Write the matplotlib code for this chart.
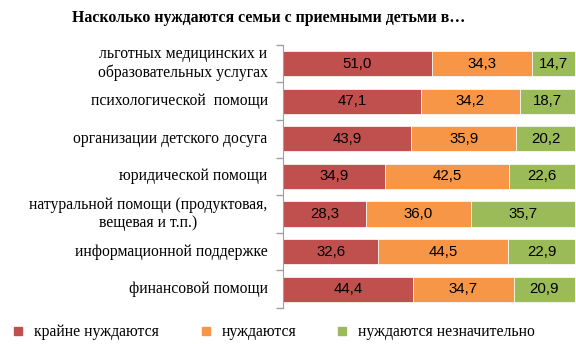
import numpy as np
import matplotlib.pyplot as plt
from matplotlib.lines import Line2D
from matplotlib.transforms import blended_transform_factory, offset_copy

categories = [
    "льготных медицинских и\nобразовательных услугах",
    "психологической  помощи",
    "организации детского досуга",
    "юридической помощи",
    "натуральной помощи (продуктовая,\nвещевая и т.п.)",
    "информационной поддержке",
    "финансовой помощи",
]
very_need = [51.0, 47.1, 43.9, 34.9, 28.3, 32.6, 44.4]
need = [34.3, 34.2, 35.9, 42.5, 36.0, 44.5, 34.7]
little_need = [14.7, 18.7, 20.2, 22.6, 35.7, 22.9, 20.9]
series_names = ["крайне нуждаются", "нуждаются", "нуждаются незначительно"]
colors = ["#C0504D", "#F79646", "#9BBB59"]

serif = "Liberation Serif"
sans = "Liberation Sans"
label_size = 11.3

fig = plt.figure(figsize=(5.76, 3.44), dpi=100)
ax = fig.add_axes([283 / 576, 1 - 308 / 344, 292 / 576, (308 - 44.7) / 344])

y = np.arange(len(categories))
left = np.zeros(len(categories))
for vals, col in zip([very_need, need, little_need], colors):
    vals = np.array(vals)
    ax.barh(y, vals, left=left, height=0.667, color=col,
            edgecolor="white", linewidth=0.5)
    for yi, l, v in zip(y, left, vals):
        ax.text(l + v / 2, yi, f"{v:.1f}".replace(".", ","), ha="center",
                va="center", fontsize=10.8, family=sans, color="black")
    left += vals

ax.set_xlim(0, 100)
ax.set_ylim(len(categories) - 0.5, -0.5)
ax.set_xticks([])
ax.set_yticks([])

# category labels: every line drawn on its own so two-line labels are centred
renderer = fig.canvas.get_renderer()
base = blended_transform_factory(ax.transAxes, ax.transData)
line_step = 1.15 * label_size
for yi, cat in zip(y, categories):
    lines = cat.split("\n")
    widths = []
    for ln in lines:
        t = fig.text(0, 0, ln, family=serif, fontsize=label_size)
        widths.append(t.get_window_extent(renderer).width * 72 / fig.dpi)
        t.remove()
    block_w = max(widths)
    for i, ln in enumerate(lines):
        dy = (len(lines) - 1) / 2 * line_step - i * line_step
        trans = offset_copy(base, fig=fig, x=-11 - block_w / 2, y=dy, units="points")
        ax.text(0, yi, ln, transform=trans, ha="center", va="center",
                family=serif, fontsize=label_size)

# small gray ticks between categories
ax.set_yticks(np.arange(-0.5, len(categories)), minor=True)
ax.tick_params(axis="y", which="minor", length=5, color="#A0A0A0", width=1)
for s in ["top", "right", "bottom"]:
    ax.spines[s].set_visible(False)
ax.spines["left"].set_color("#A0A0A0")

fig.text(269 / 576, 1 - 18 / 344, "Насколько нуждаются семьи с приемными детьми в…",
         ha="center", va="center", fontsize=11.4, fontweight="bold", family=serif)

marker_x = [18, 206, 342]
for mx, name, col in zip(marker_x, series_names, colors):
    fig.add_artist(Line2D([mx / 576], [1 - 331 / 344], marker="s", markersize=6,
                          color=col, linestyle="none"))
    fig.text((mx + 16) / 576, 1 - 332 / 344, name, ha="left", va="center",
             fontsize=11.3, family=serif)

fig.savefig("out.png", dpi=100)
